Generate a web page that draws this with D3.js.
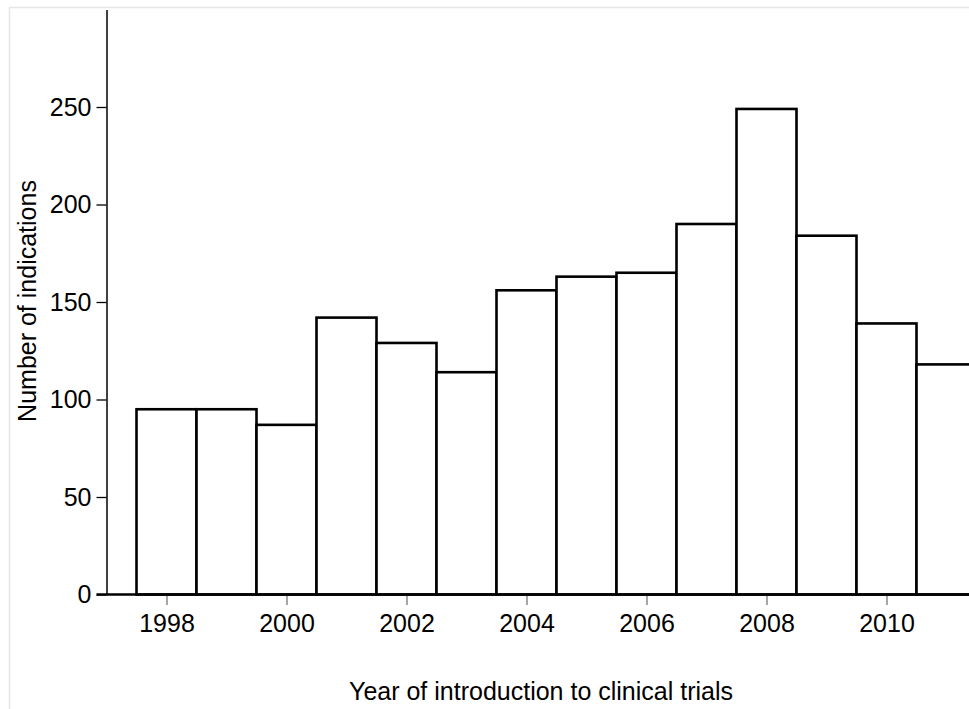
<!DOCTYPE html>
<html>
<head>
<meta charset="UTF-8">
<style>
	body { margin: 0; background: #fff; }
	svg { display: block; font-family: Arial, "Liberation Sans", sans-serif; }
	.bar { fill: #fff; stroke: #000; stroke-width: 2.6px; }
	.frame { stroke: #e6e6e6; stroke-width: 1.5px; }
</style>
<script src="https://cdn.jsdelivr.net/npm/d3@7"></script>
</head>
<body>
<div id="chart"></div>
<script>

	// number of indications per year of introduction
	var years = [1998, 1999, 2000, 2001, 2002, 2003, 2004, 2005, 2006, 2007, 2008, 2009, 2010, 2011];
	var counts = [95, 95, 87, 142, 129, 114, 156, 163, 165, 190, 249, 184, 139, 118];
	var yTicks = [0, 50, 100, 150, 200, 250];
	var xTicks = [1998, 2000, 2002, 2004, 2006, 2008, 2010];

	var W = 969, H = 709;
	var x0 = 106.5, y0 = 594.5;
	var fs = 25;

	var svg = d3.select("#chart").append("svg")
		.attr("width", W)
		.attr("height", H);

	// faint outer frame (top + left edge of the graph region)
	svg.append("line").attr("class", "frame")
		.attr("x1", 9).attr("y1", 7.5).attr("x2", W).attr("y2", 7.5);
	svg.append("line").attr("class", "frame")
		.attr("x1", 9.5).attr("y1", 7).attr("x2", 9.5).attr("y2", H);

	// 60px per year, 1998 centred at 166.7
	var x = d3.scaleLinear().domain([1997, 2012]).range([x0, x0 + 900]);
	var y = d3.scaleLinear().domain([0, 300]).range([y0, y0 - 585]);

	svg.selectAll(".bar")
		.data(years)
		.enter().append("rect")
		.attr("class", "bar")
		.attr("x", function(d) { return x(d - 0.5); })
		.attr("width", function(d) { return x(d + 0.5) - x(d - 0.5); })
		.attr("y", function(d, i) { return y(counts[i]); })
		.attr("height", function(d, i) { return y(0) - y(counts[i]); });

	// y axis
	var yAxis = svg.append("g")
		.attr("transform", "translate(" + x0 + ",0)")
		.call(d3.axisLeft(y).tickValues(yTicks).tickSize(10).tickPadding(5).tickSizeOuter(0));
	yAxis.select(".domain").attr("stroke", "#000").attr("stroke-width", 1.5);
	yAxis.selectAll(".tick line").attr("stroke", "#000").attr("stroke-width", 1.3);
	yAxis.selectAll("text").attr("font-size", fs).attr("fill", "#000")
		.attr("font-family", "Arial, 'Liberation Sans', sans-serif");

	// x axis - ticks sit a little below the line
	var xAxis = svg.append("g")
		.attr("transform", "translate(0," + (y0 + 1.5) + ")")
		.call(d3.axisBottom(x).tickValues(xTicks).tickFormat(d3.format("d")).tickSize(9).tickPadding(9).tickSizeOuter(0));
	xAxis.select(".domain").remove();
	xAxis.selectAll(".tick line").attr("stroke", "#777").attr("stroke-width", 1.3);
	xAxis.selectAll("text").attr("font-size", fs).attr("fill", "#000")
		.attr("font-family", "Arial, 'Liberation Sans', sans-serif");

	svg.append("line")
		.attr("x1", x0 - 10).attr("x2", W)
		.attr("y1", y0).attr("y2", y0)
		.attr("stroke", "#000").attr("stroke-width", 2.5);

	// axis titles
	svg.append("text")
		.attr("x", 541).attr("y", 700)
		.attr("text-anchor", "middle")
		.attr("font-size", fs)
		.text("Year of introduction to clinical trials");

	svg.append("text")
		.attr("transform", "translate(36,301) rotate(-90)")
		.attr("text-anchor", "middle")
		.attr("font-size", fs)
		.text("Number of indications");

</script>
</body>
</html>
